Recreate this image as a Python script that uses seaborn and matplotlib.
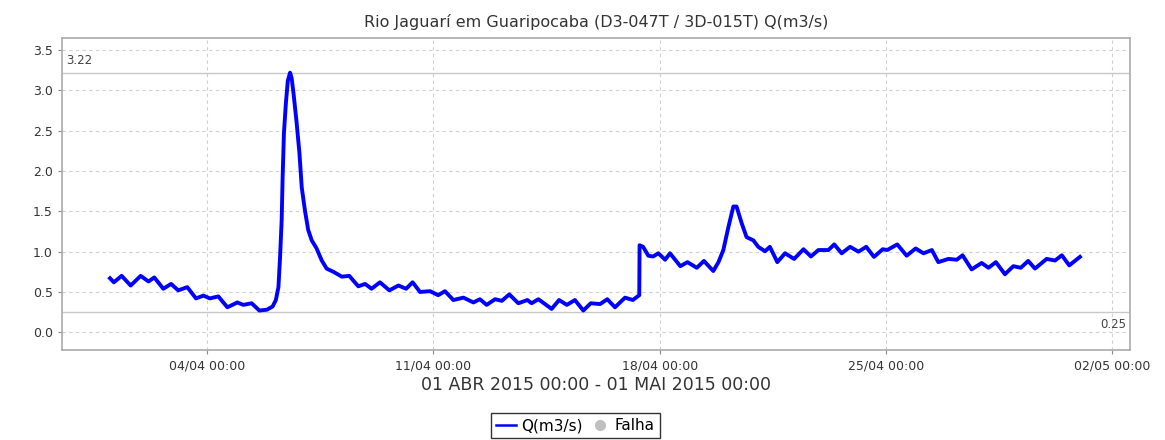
import pandas as pd
import numpy as np
import matplotlib
matplotlib.use("Agg")
import matplotlib.pyplot as plt
import matplotlib.dates as mdates
from matplotlib.lines import Line2D
import seaborn as sns

# %%
# Data (days since 01/04/2015 00:00, flow in m3/s)
START = pd.Timestamp("2015-04-01 00:00")
days = [
    0.00, 0.12, 0.36, 0.64, 0.95, 1.19, 1.37, 1.65, 1.89, 2.11,
    2.39, 2.66, 2.89, 3.09, 3.35, 3.63, 3.94, 4.12, 4.38, 4.62,
    4.85, 5.03, 5.13, 5.21, 5.26, 5.31, 5.34, 5.38, 5.44, 5.50,
    5.57, 5.62, 5.68, 5.77, 5.86, 5.93, 6.03, 6.13, 6.24, 6.39,
    6.55, 6.70, 6.91, 7.17, 7.40, 7.68, 7.89, 8.09, 8.35, 8.64,
    8.92, 9.16, 9.36, 9.59, 9.90, 10.15, 10.36, 10.62, 10.93, 11.24,
    11.44, 11.65, 11.91, 12.12, 12.35, 12.63, 12.91, 13.04, 13.25, 13.42,
    13.66, 13.89, 14.13, 14.38, 14.64, 14.87, 15.16, 15.38, 15.62, 15.93,
    16.17, 16.37, 16.38, 16.49, 16.65, 16.80, 16.96, 17.17, 17.32, 17.64,
    17.86, 18.15, 18.37, 18.66, 18.82, 18.97, 19.13, 19.28, 19.38, 19.54,
    19.69, 19.90, 20.05, 20.26, 20.41, 20.64, 20.88, 21.16, 21.45, 21.68,
    21.91, 22.22, 22.40, 22.63, 22.89, 23.15, 23.39, 23.63, 23.90, 24.04,
    24.35, 24.64, 24.92, 25.16, 25.42, 25.62, 25.93, 26.19, 26.37, 26.65,
    26.96, 27.17, 27.40, 27.68, 27.94, 28.17, 28.40, 28.61, 28.97, 29.23,
    29.44, 29.67, 30.00,
]
flow = [
    0.67, 0.62, 0.70, 0.58, 0.70, 0.63, 0.68, 0.54, 0.60, 0.52,
    0.56, 0.42, 0.455, 0.42, 0.445, 0.31, 0.37, 0.34, 0.36, 0.27,
    0.28, 0.32, 0.40, 0.56, 0.93, 1.39, 1.93, 2.47, 2.84, 3.12,
    3.22, 3.15, 2.95, 2.61, 2.22, 1.80, 1.51, 1.27, 1.14, 1.04,
    0.89, 0.79, 0.75, 0.69, 0.70, 0.57, 0.60, 0.54, 0.62, 0.52,
    0.58, 0.54, 0.62, 0.50, 0.51, 0.46, 0.51, 0.40, 0.43, 0.37,
    0.41, 0.34, 0.41, 0.39, 0.47, 0.36, 0.40, 0.36, 0.41, 0.36,
    0.29, 0.40, 0.34, 0.40, 0.27, 0.36, 0.35, 0.41, 0.31, 0.43,
    0.40, 0.46, 1.08, 1.06, 0.95, 0.94, 0.98, 0.90, 0.98, 0.82,
    0.87, 0.80, 0.885, 0.76, 0.87, 1.02, 1.31, 1.56, 1.56, 1.35,
    1.18, 1.14, 1.06, 1.005, 1.06, 0.87, 0.98, 0.91, 1.03, 0.94,
    1.02, 1.02, 1.09, 0.98, 1.06, 1.00, 1.06, 0.935, 1.03, 1.02,
    1.09, 0.95, 1.04, 0.98, 1.02, 0.87, 0.91, 0.90, 0.955, 0.78,
    0.86, 0.80, 0.87, 0.72, 0.82, 0.80, 0.885, 0.79, 0.91, 0.89,
    0.955, 0.83, 0.935,
]
q_max = 3.22
q_min = 0.25

df = pd.DataFrame({
    "time": START + pd.to_timedelta(days, unit="D"),
    "Q": flow,
})

# %%
plt.rcParams['font.family'] = ['DejaVu Sans']
fig = plt.figure(figsize=(11.65, 4.4), dpi=100)
ax = fig.add_axes([0.0532, 0.2045, 0.9168, 0.7091])

BLUE = '#0000ff'
GRID = '#cfcfcf'
TXT = '#333333'

sns.lineplot(data=df, x="time", y="Q", color=BLUE, linewidth=2.8, ax=ax, legend=False)

# max / min reference lines
ax.axhline(q_max, color='#c8c8c8', linewidth=1, zorder=1)
ax.axhline(q_min, color='#c8c8c8', linewidth=1, zorder=1)
ax.text(0.004, q_max + 0.07, f'{q_max:.2f}', transform=ax.get_yaxis_transform(),
        fontsize=8.5, color='#444444', ha='left', va='bottom')
ax.text(0.996, q_min - 0.07, f'{q_min:.2f}', transform=ax.get_yaxis_transform(),
        fontsize=8.5, color='#444444', ha='right', va='top')

# axes limits and ticks
ax.set_xlim(START - pd.Timedelta(days=1.485), START + pd.Timedelta(days=31.55))
ax.set_ylim(-0.22, 3.65)
ax.set_yticks(np.arange(0, 3.51, 0.5))
ax.yaxis.set_major_formatter(plt.FormatStrFormatter('%.1f'))
ax.xaxis.set_major_locator(mdates.WeekdayLocator(byweekday=mdates.SA))
ax.xaxis.set_major_formatter(mdates.DateFormatter('%d/%m %H:%M'))

ax.grid(True, color=GRID, linestyle=(0, (3, 3)), linewidth=0.8)
ax.set_axisbelow(True)
for s in ax.spines.values():
    s.set_color('#aaaaaa')
    s.set_linewidth(1.2)
ax.tick_params(axis='both', labelsize=9, colors='#888888', labelcolor=TXT,
               length=3, width=0.8)

ax.set_ylabel('')
ax.set_xlabel('01 ABR 2015 00:00 - 01 MAI 2015 00:00', fontsize=12.5, color=TXT, labelpad=3)
ax.set_title('Rio Jaguarí em Guaripocaba (D3-047T / 3D-015T) Q(m3/s)',
             fontsize=11.5, color=TXT, pad=8)

# legend at the bottom
handles = [
    Line2D([0], [0], color=BLUE, linewidth=1.8),
    Line2D([0], [0], marker='o', color='none', markerfacecolor='#c0c0c0',
           markeredgecolor='#c0c0c0', markersize=7),
]
leg = fig.legend(handles, ['Q(m3/s)', 'Falha'], loc='lower center',
                 bbox_to_anchor=(0.494, 0.0), ncol=2, frameon=True, fancybox=False,
                 fontsize=11, handlelength=1.3, handletextpad=0.3, columnspacing=0.5,
                 borderpad=0.35, borderaxespad=0.1)
leg.get_frame().set_edgecolor('black')
leg.get_frame().set_linewidth(1)

fig.savefig('out.png', dpi=100)
